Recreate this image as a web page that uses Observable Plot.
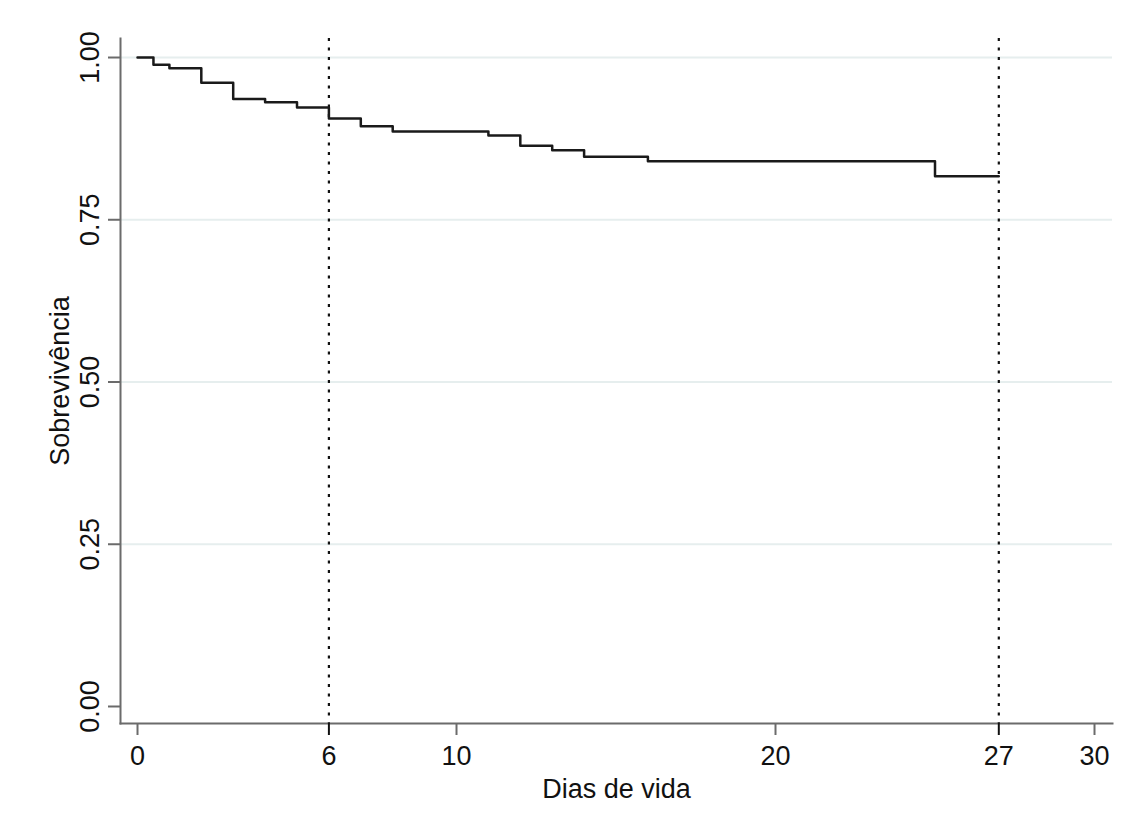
<!DOCTYPE html>
<html>
<head>
<meta charset="utf-8">
<script src="https://cdn.jsdelivr.net/npm/d3@7"></script>
<script src="https://cdn.jsdelivr.net/npm/@observablehq/plot@0.6"></script>
<style>
  html, body { margin: 0; padding: 0; background: #fff; }
  #chart svg { display: block; }
</style>
</head>
<body>
<div id="chart"></div>
<script>
// Kaplan-Meier estimate (day, survival)
const days = [0, 0.5, 1, 2, 3, 4, 5, 6, 7, 8, 11, 12, 13, 14, 16, 25, 27];
const survival = [1.000, 0.989, 0.9835, 0.961, 0.936, 0.931, 0.923, 0.906, 0.894, 0.886, 0.880, 0.864, 0.857, 0.847, 0.840, 0.817, 0.817];
const xTicksPlain = [0, 10, 20, 30];
const xTicksMarked = [6, 27];
const xTickLabels = [0, 6, 10, 20, 27, 30];
const yTicks = [0, 0.25, 0.5, 0.75, 1];
const yGrid = [0.25, 0.5, 0.75, 1];
const referenceDays = [6, 27];
const xTitle = "Dias de vida";
const yTitle = "Sobrevivência";

const data = days.map((d, i) => ({day: d, s: survival[i]}));

const axisColor = "#6b6b6b";
const font = "'Liberation Sans', Arial, sans-serif";

const chart = Plot.plot({
  width: 1128,
  height: 829,
  marginLeft: 120,
  marginRight: 16,
  marginTop: 38,
  marginBottom: 106,
  style: {fontFamily: font, fontSize: "27px", color: "#111", background: "#fff"},
  x: {domain: [-0.533, 30.564]},
  y: {domain: [-0.0262, 1.0293]},
  marks: [
    Plot.ruleY(yGrid, {stroke: "#e6eeee", strokeWidth: 2}),
    Plot.ruleX(referenceDays, {stroke: "#111", strokeWidth: 2.2, strokeDasharray: "3,6.5"}),
    Plot.line(data, {x: "day", y: "s", curve: "step-after", stroke: "#1a1a1a", strokeWidth: 2.5}),
    Plot.frame({anchor: "left", stroke: axisColor, strokeWidth: 2}),
    Plot.frame({anchor: "bottom", stroke: axisColor, strokeWidth: 2}),
    Plot.axisX({ticks: xTicksPlain, tickSize: 12, tickFormat: () => "", stroke: axisColor, strokeWidth: 2, label: null}),
    Plot.axisX({ticks: xTicksMarked, tickSize: 12, tickFormat: () => "", stroke: "#111", strokeWidth: 2, label: null}),
    Plot.axisX({ticks: xTickLabels, tickSize: 12, tickPadding: 10, strokeOpacity: 0, tickFormat: d => String(d), label: null, fill: "#111"}),
    Plot.axisY({ticks: yTicks, tickSize: 12, tickFormat: () => "", stroke: axisColor, strokeWidth: 2, label: null}),
    Plot.axisY({ticks: yTicks, tickSize: 12, tickPadding: 10, strokeOpacity: 0,
      tickFormat: d3.format(".2f"), rotate: -90, textAnchor: "middle", lineAnchor: "bottom", label: null, fill: "#111"}),
    Plot.text([xTitle], {frameAnchor: "bottom", dy: 74, text: d => d, fontSize: 27, fill: "#111"}),
    Plot.text([yTitle], {frameAnchor: "left", dx: -60, rotate: -90, textAnchor: "middle", text: d => d, fontSize: 27, fill: "#111"})
  ]
});
document.getElementById("chart").appendChild(chart);
</script>
</body>
</html>
